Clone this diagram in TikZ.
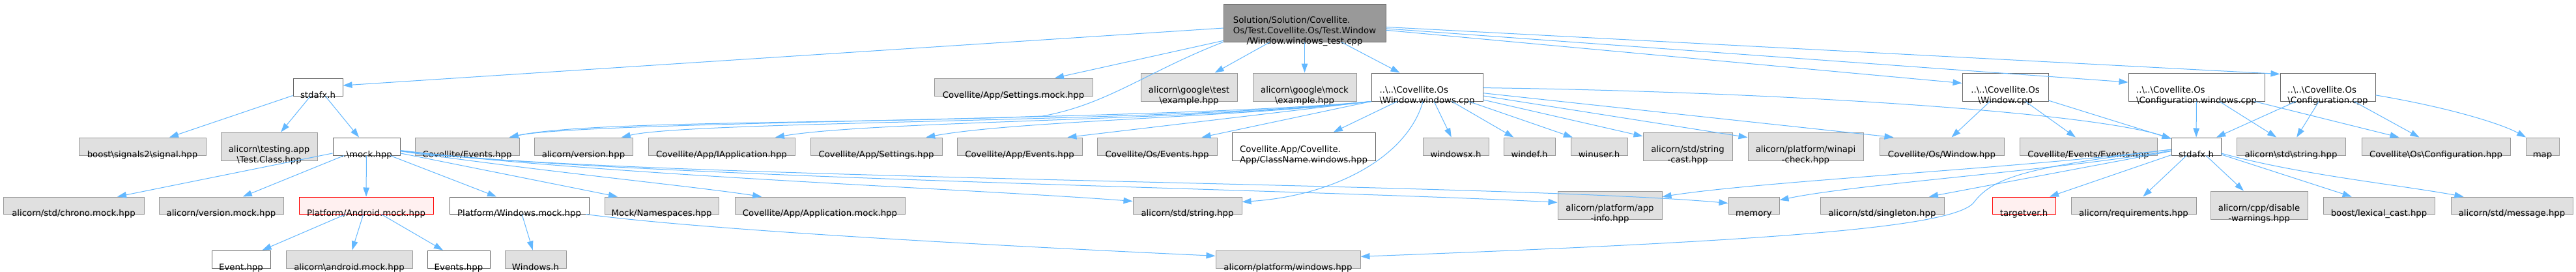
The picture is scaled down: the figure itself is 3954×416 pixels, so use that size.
\documentclass[tikz,border=0pt]{standalone}
\usepackage{fontspec}
\setmainfont{DejaVu Sans}
\usetikzlibrary{arrows.meta}
\definecolor{edgec}{HTML}{63B8FF}
\definecolor{gfill}{HTML}{E0E0E0}
\definecolor{gline}{HTML}{999999}
\definecolor{wline}{HTML}{666666}
\definecolor{tfill}{HTML}{999999}
\definecolor{rfill}{HTML}{FFF0F0}
\newcommand{\bsl}{\textbackslash}
\newcommand{\oneL}[1]{\begin{tabular}{@{}c@{}}#1\end{tabular}}
\newcommand{\twoL}[2]{\begin{tabular}{@{}l@{}}#1\\\multicolumn{1}{@{}c@{}}{#2}\end{tabular}}
\newcommand{\threeL}[3]{\begin{tabular}{@{}l@{}}#1\\#2\\\multicolumn{1}{@{}c@{}}{#3}\end{tabular}}
\newcommand{\mknode}[7]{\node[#1, minimum width={#4-#3}, minimum height={#6-#5}, label={[lbl]center:{#7}}] (#2) at ({(#3+#4)/2},{(#5+#6)/2}) {};}
\tikzset{
  base/.style={rectangle, inner sep=0pt, line width=1pt},
  gbox/.style={base, draw=gline, fill=gfill},
  wbox/.style={base, draw=wline, fill=white},
  tbox/.style={base, draw=wline, fill=tfill},
  rbox/.style={base, draw=red, fill=rfill},
  lbl/.style={inner sep=0pt, yshift=-13.3pt, font=\fontsize{13.3}{16}\selectfont, text=black},
  dep/.style={draw=edgec, line width=1pt, -{Triangle[length=14pt,width=9.5pt]}},
}
\begin{document}
\begin{tikzpicture}[x=1pt, y=-1pt]
\useasboundingbox (0,0) rectangle (3954,416);
\fill[white] (0,0) rectangle (3954,416);
% row 1
\mknode{tbox}{T}{1878}{2127}{6}{64}{\threeL{Solution/Solution/Covellite.}{Os/Test.Covellite.Os/Test.Window}{/Window.windows\_test.cpp}}
% row 2
\mknode{wbox}{S1}{450}{526}{120}{147}{\oneL{stdafx.h}}
\mknode{gbox}{SMock}{1434}{1677}{120}{147}{\oneL{Covellite/App/Settings.mock.hpp}}
\mknode{gbox}{GT}{1751}{1899}{112}{155}{\twoL{alicorn\bsl{}google\bsl{}test}{\bsl{}example.hpp}}
\mknode{gbox}{GM}{1923}{2082}{112}{155}{\twoL{alicorn\bsl{}google\bsl{}mock}{\bsl{}example.hpp}}
\mknode{wbox}{W}{2105}{2276}{112}{155}{\twoL{..\bsl{}..\bsl{}Covellite.Os}{\bsl{}Window.windows.cpp}}
\mknode{wbox}{WC}{3012}{3144}{112}{155}{\twoL{..\bsl{}..\bsl{}Covellite.Os}{\bsl{}Window.cpp}}
\mknode{wbox}{CW}{3267}{3476}{112}{155}{\twoL{..\bsl{}..\bsl{}Covellite.Os}{\bsl{}Configuration.windows.cpp}}
\mknode{wbox}{CC}{3500}{3646}{112}{155}{\twoL{..\bsl{}..\bsl{}Covellite.Os}{\bsl{}Configuration.cpp}}
% row 3
\mknode{gbox}{BS}{121}{316}{211}{238}{\oneL{boost\bsl{}signals2\bsl{}signal.hpp}}
\mknode{gbox}{TC}{339}{487}{203}{246}{\twoL{alicorn\bsl{}testing.app}{\bsl{}Test.Class.hpp}}
\mknode{wbox}{M}{511}{614}{211}{238}{\oneL{..\bsl{}mock.hpp}}
\mknode{gbox}{CEv}{637}{797}{211}{238}{\oneL{Covellite/Events.hpp}}
\mknode{gbox}{Ver}{820}{971}{211}{238}{\oneL{alicorn/version.hpp}}
\mknode{gbox}{IApp}{995}{1220}{211}{238}{\oneL{Covellite/App/IApplication.hpp}}
\mknode{gbox}{Set}{1244}{1446}{211}{238}{\oneL{Covellite/App/Settings.hpp}}
\mknode{gbox}{AEv}{1469}{1661}{211}{238}{\oneL{Covellite/App/Events.hpp}}
\mknode{gbox}{OEv}{1684}{1868}{211}{238}{\oneL{Covellite/Os/Events.hpp}}
\mknode{wbox}{CN}{1891}{2111}{203}{246}{\twoL{Covellite.App/Covellite.}{App/ClassName.windows.hpp}}
\mknode{gbox}{WX}{2184}{2285}{211}{238}{\oneL{windowsx.h}}
\mknode{gbox}{WD}{2308}{2387}{211}{238}{\oneL{windef.h}}
\mknode{gbox}{WU}{2411}{2498}{211}{238}{\oneL{winuser.h}}
\mknode{gbox}{SC}{2522}{2659}{203}{246}{\twoL{alicorn/std/string}{-cast.hpp}}
\mknode{gbox}{WA}{2683}{2860}{203}{246}{\twoL{alicorn/platform/winapi}{-check.hpp}}
\mknode{gbox}{OW}{2885}{3076}{211}{238}{\oneL{Covellite/Os/Window.hpp}}
\mknode{gbox}{EE}{3100}{3311}{211}{238}{\oneL{Covellite/Events/Events.hpp}}
\mknode{wbox}{S2}{3333}{3409}{211}{238}{\oneL{stdafx.h}}
\mknode{gbox}{SS}{3433}{3600}{211}{238}{\oneL{alicorn\bsl{}std\bsl{}string.hpp}}
\mknode{gbox}{CH}{3625}{3853}{211}{238}{\oneL{Covellite\bsl{}Os\bsl{}Configuration.hpp}}
\mknode{gbox}{MAP}{3877}{3928}{211}{238}{\oneL{map}}
% row 4
\mknode{gbox}{CHR}{5}{221}{302}{328}{\oneL{alicorn/std/chrono.mock.hpp}}
\mknode{gbox}{VM}{244}{435}{302}{328}{\oneL{alicorn/version.mock.hpp}}
\mknode{rbox}{AM}{459}{665}{302}{328}{\oneL{Platform/Android.mock.hpp}}
\mknode{wbox}{WM}{690}{904}{302}{328}{\oneL{Platform/Windows.mock.hpp}}
\mknode{gbox}{NS}{928}{1103}{302}{328}{\oneL{Mock/Namespaces.hpp}}
\mknode{gbox}{AppM}{1128}{1389}{302}{328}{\oneL{Covellite/App/Application.mock.hpp}}
\mknode{gbox}{STR}{1739}{1906}{302}{328}{\oneL{alicorn/std/string.hpp}}
\mknode{gbox}{AI}{2391}{2551}{293}{336}{\twoL{alicorn/platform/app}{-info.hpp}}
\mknode{gbox}{MEM}{2653}{2731}{302}{328}{\oneL{memory}}
\mknode{gbox}{SGL}{2794}{2984}{302}{328}{\oneL{alicorn/std/singleton.hpp}}
\mknode{rbox}{TV}{3058}{3155}{302}{328}{\oneL{targetver.h}}
\mknode{gbox}{REQ}{3179}{3371}{302}{328}{\oneL{alicorn/requirements.hpp}}
\mknode{gbox}{DW}{3393}{3542}{293}{336}{\twoL{alicorn/cpp/disable}{-warnings.hpp}}
\mknode{gbox}{LC}{3566}{3737}{302}{328}{\oneL{boost/lexical\_cast.hpp}}
\mknode{gbox}{MSG}{3762}{3949}{302}{328}{\oneL{alicorn/std/message.hpp}}
% row 5
\mknode{wbox}{EV}{325}{415}{384}{411}{\oneL{Event.hpp}}
\mknode{gbox}{ADM}{439}{633}{384}{411}{\oneL{alicorn\bsl{}android.mock.hpp}}
\mknode{wbox}{EVS}{656}{752}{384}{411}{\oneL{Events.hpp}}
\mknode{gbox}{WH}{775}{869}{384}{411}{\oneL{Windows.h}}
\mknode{gbox}{PW}{1866}{2088}{384}{411}{\oneL{alicorn/platform/windows.hpp}}
% edges from the test file
\draw[dep] (T) -- (S1);
\draw[dep] (T) -- (SMock);
\draw[dep] (T) -- (GT);
\draw[dep] (T) -- (GM);
\draw[dep] (T) -- (W);
\draw[dep] (T) -- (WC);
\draw[dep] (T) -- (CW);
\draw[dep] (T) -- ([yshift=-2pt]CC.north west);
\draw[dep] (T.south west) .. controls (1760,110) and (1700,160) .. (1600,178) .. controls (1300,190) and (900,185) .. (CEv);
% edges from Window.windows.cpp
\draw[dep] (W.south west) .. controls (1800,185) and (900,185) .. (CEv);
\draw[dep] (W.south west) .. controls (1800,188) and (1060,185) .. (Ver);
\draw[dep] (W.south west) .. controls (1850,185) and (1340,185) .. (IApp);
\draw[dep] (W.south west) .. controls (1900,180) and (1560,185) .. (Set);
\draw[dep] (W.south west) -- ([xshift=-23pt]AEv.north east);
\draw[dep] (W.south west) -- ([xshift=-24pt]OEv.north east);
\draw[dep] (W) -- (CN);
\draw[dep] (W) .. controls (2160,240) and (2050,300) .. (STR);
\draw[dep] (W) -- (WX);
\draw[dep] (W) -- (WD);
\draw[dep] (W) -- (WU);
\draw[dep] (W) -- (SC);
\draw[dep] (W) -- (WA);
\draw[dep] (W) -- ([xshift=22pt]OW.north west);
\draw[dep] (W) .. controls (2700,140) and (3200,170) .. (S2);
% edges from Window.cpp
\draw[dep] (WC) -- (OW);
\draw[dep] (WC) -- (EE);
\draw[dep] (WC) -- (S2);
% edges from Configuration files
\draw[dep] (CW) -- (S2);
\draw[dep] (CW) -- (SS);
\draw[dep] (CW) -- (CH);
\draw[dep] (CC) -- (S2);
\draw[dep] (CC) -- (SS);
\draw[dep] (CC) -- (CH);
\draw[dep] (CC) .. controls (3760,165) and (3840,190) .. (MAP);
% left stdafx.h
\draw[dep] (S1) -- (BS);
\draw[dep] (S1) -- (TC);
\draw[dep] (S1) -- (M);
% mock.hpp
\draw[dep] (M) -- (CHR);
\draw[dep] (M) -- (VM);
\draw[dep] (M) -- (AM);
\draw[dep] (M) -- (WM);
\draw[dep] (M) -- (NS);
\draw[dep] (M) .. controls (850,265) and (1060,285) .. (AppM);
\draw[dep] (M) .. controls (950,270) and (1500,290) .. (STR);
\draw[dep] (M) .. controls (950,272) and (2000,290) .. (AI);
\draw[dep] (M) .. controls (950,275) and (2300,280) .. (MEM);
% mocks
\draw[dep] (AM) -- (EV);
\draw[dep] (AM) -- (ADM);
\draw[dep] (AM) -- (EVS);
\draw[dep] (WM) -- (WH);
\draw[dep] (WM) .. controls (1100,355) and (1600,380) .. (PW);
% right stdafx.h
\draw[dep] (S2) -- (REQ);
\draw[dep] (S2) -- (DW);
\draw[dep] (S2) -- (LC);
\draw[dep] (S2) .. controls (3530,268) and (3680,283) .. (MSG);
\draw[dep] (S2) -- (TV);
\draw[dep] (S2) -- (SGL);
\draw[dep] (S2) .. controls (3150,262) and (2850,282) .. (MEM);
\draw[dep] (S2) .. controls (3100,258) and (2700,278) .. (AI);
\draw[dep] (S2) .. controls (3120,255) and (3060,270) .. (3030,310) .. controls (3000,350) and (2700,370) .. (PW);
\end{tikzpicture}
\end{document}
